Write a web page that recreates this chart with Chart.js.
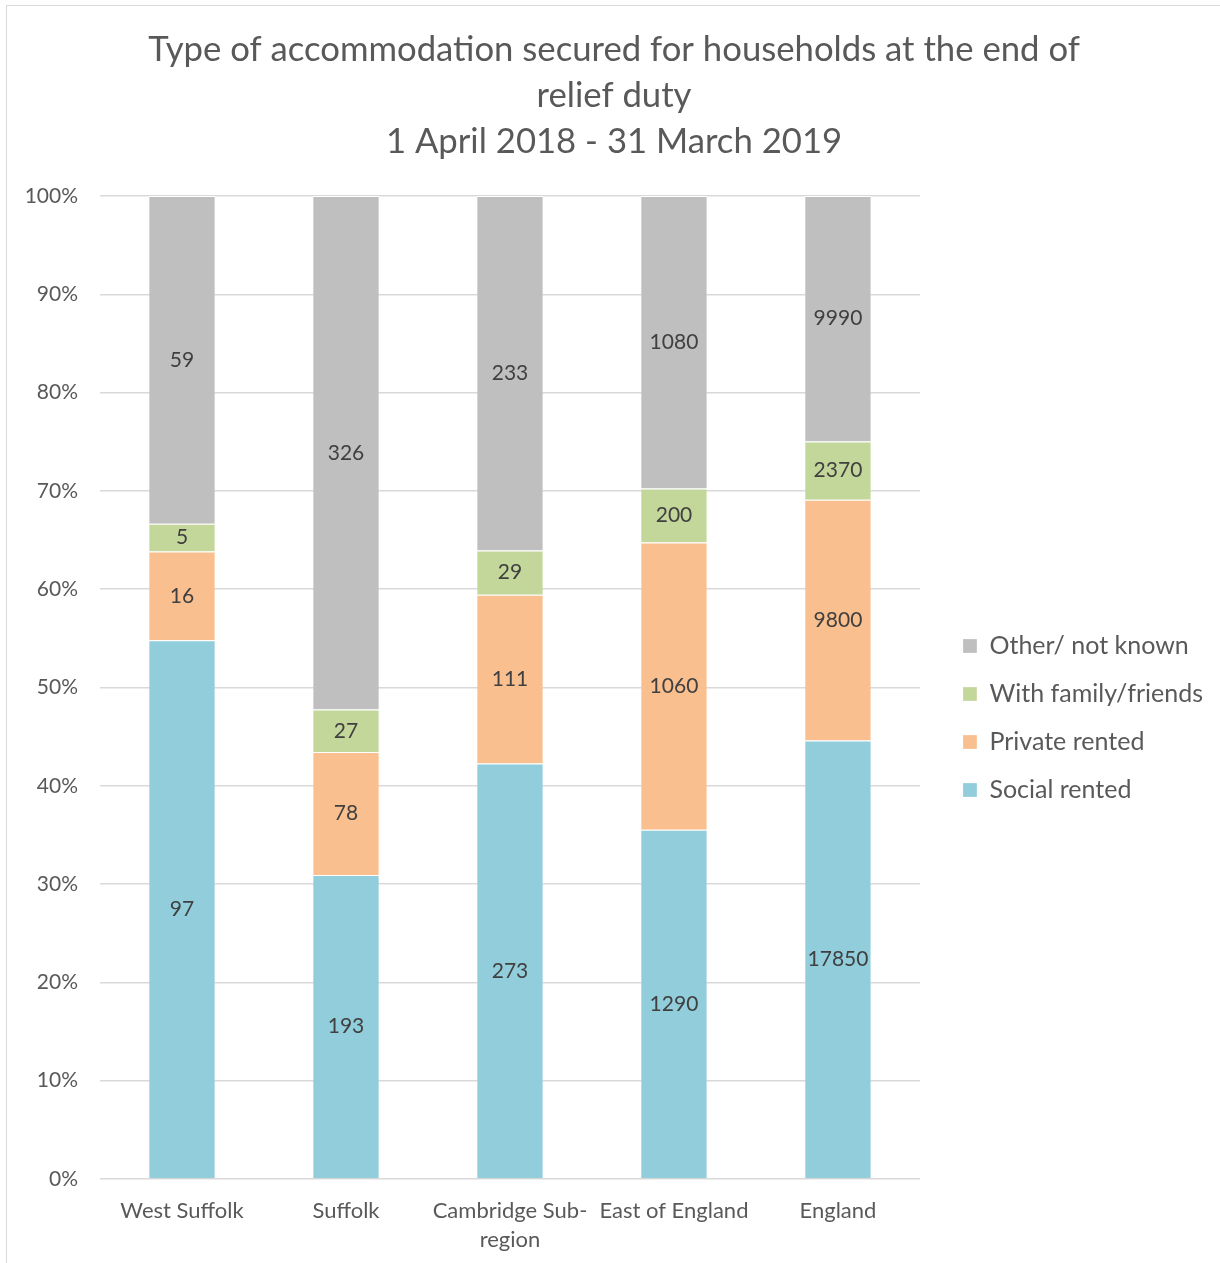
<!DOCTYPE html>
<html>
<head>
<meta charset="utf-8">
<script src="https://cdn.jsdelivr.net/npm/chart.js@4"></script>
<style>
    body { margin: 0; background: #fff; overflow: hidden; }
    #frame { position: absolute; left: 6px; top: 5px; width: 1300px; height: 1300px; border: 1.5px solid #d9d9d9; }
    #chart { position: absolute; left: 0; top: 0; }
</style>
</head>
<body>
<div id="frame"></div>
<canvas id="chart" width="1220" height="1263"></canvas>
<script>
// households per accommodation type, end of relief duty
const areas = ['West Suffolk', 'Suffolk', ['Cambridge Sub-', 'region'], 'East of England', 'England'];
const socialRented = [97, 193, 273, 1290, 17850];
const privateRented = [16, 78, 111, 1060, 9800];
const familyFriends = [5, 27, 29, 200, 2370];
const otherUnknown = [59, 326, 233, 1080, 9990];
const yTicks = [0, 10, 20, 30, 40, 50, 60, 70, 80, 90, 100];

const totals = areas.map((a, i) => socialRented[i] + privateRented[i] + familyFriends[i] + otherUnknown[i]);
const asShare = arr => arr.map((v, i) => v / totals[i] * 100);

const FONT = 'Lato, "Open Sans", sans-serif';
const GREY_TEXT = '#595959';

function series(label, counts, colour) {
    return {
        label: label,
        data: asShare(counts),
        counts: counts,
        backgroundColor: colour,
        borderColor: '#ffffff',
        borderWidth: { top: 1, left: 0, right: 0, bottom: 0 },
        borderSkipped: false,
        barPercentage: 0.4,
        categoryPercentage: 1.0
    };
}

// write the household count in the middle of every segment
const segmentLabels = {
    id: 'segmentLabels',
    afterDatasetsDraw(chart) {
        const ctx = chart.ctx;
        ctx.save();
        ctx.font = '21px ' + FONT;
        ctx.fillStyle = '#404040';
        ctx.textAlign = 'center';
        ctx.textBaseline = 'middle';
        chart.data.datasets.forEach((ds, di) => {
            const meta = chart.getDatasetMeta(di);
            meta.data.forEach((bar, i) => {
                const p = bar.getCenterPoint();
                ctx.fillText(String(ds.counts[i]), p.x, p.y);
            });
        });
        ctx.restore();
    }
};

new Chart(document.getElementById('chart'), {
    type: 'bar',
    data: {
        labels: areas,
        datasets: [
            series('Social rented', socialRented, '#92CDDC'),
            series('Private rented', privateRented, '#FABF8F'),
            series('With family/friends', familyFriends, '#C4D79B'),
            series('Other/ not known', otherUnknown, '#BFBFBF')
        ]
    },
    options: {
        responsive: false,
        animation: false,
        devicePixelRatio: 1,
        layout: { padding: { top: 0, left: 15, right: 7, bottom: 0 } },
        scales: {
            x: {
                stacked: true,
                grid: { display: false },
                border: { display: false },
                ticks: {
                    color: GREY_TEXT,
                    font: { family: FONT, size: 22, lineHeight: 29 / 22 },
                    padding: 9,
                    maxRotation: 0,
                    autoSkip: false
                },
                afterFit(scale) { scale.height = 84; }
            },
            y: {
                stacked: true,
                min: 0,
                max: 100,
                afterBuildTicks(scale) { scale.ticks = yTicks.map(v => ({ value: v })); },
                grid: { color: '#d9d9d9', lineWidth: 1.5, drawTicks: false },
                border: { display: false },
                ticks: {
                    color: GREY_TEXT,
                    font: { family: FONT, size: 21 },
                    padding: 22,
                    callback: v => v + '%'
                },
                afterFit(scale) { scale.width = 85; }
            },
            // empty spacer between the plot and the legend
            gap: {
                position: 'right',
                grid: { display: false },
                border: { display: false },
                ticks: { display: false },
                afterFit(scale) { scale.width = 20; }
            }
        },
        plugins: {
            title: {
                display: true,
                text: ['Type of accommodation secured for households at the end of', 'relief duty', '1 April 2018 - 31 March 2019'],
                color: GREY_TEXT,
                font: { family: FONT, size: 34.7, weight: 'normal', lineHeight: 46 / 34.7 },
                padding: { top: 27, bottom: 31 }
            },
            legend: {
                position: 'right',
                fullSize: false,
                maxWidth: 320,
                reverse: true,
                title: { display: true, text: ' ', font: { size: 22 }, padding: { top: 17, bottom: 17.6 } },
                labels: {
                    color: GREY_TEXT,
                    font: { family: FONT, size: 25 },
                    boxWidth: 14,
                    boxHeight: 14,
                    padding: 23
                }
            },
            tooltip: { enabled: false }
        }
    },
    plugins: [segmentLabels]
});
</script>
</body>
</html>
